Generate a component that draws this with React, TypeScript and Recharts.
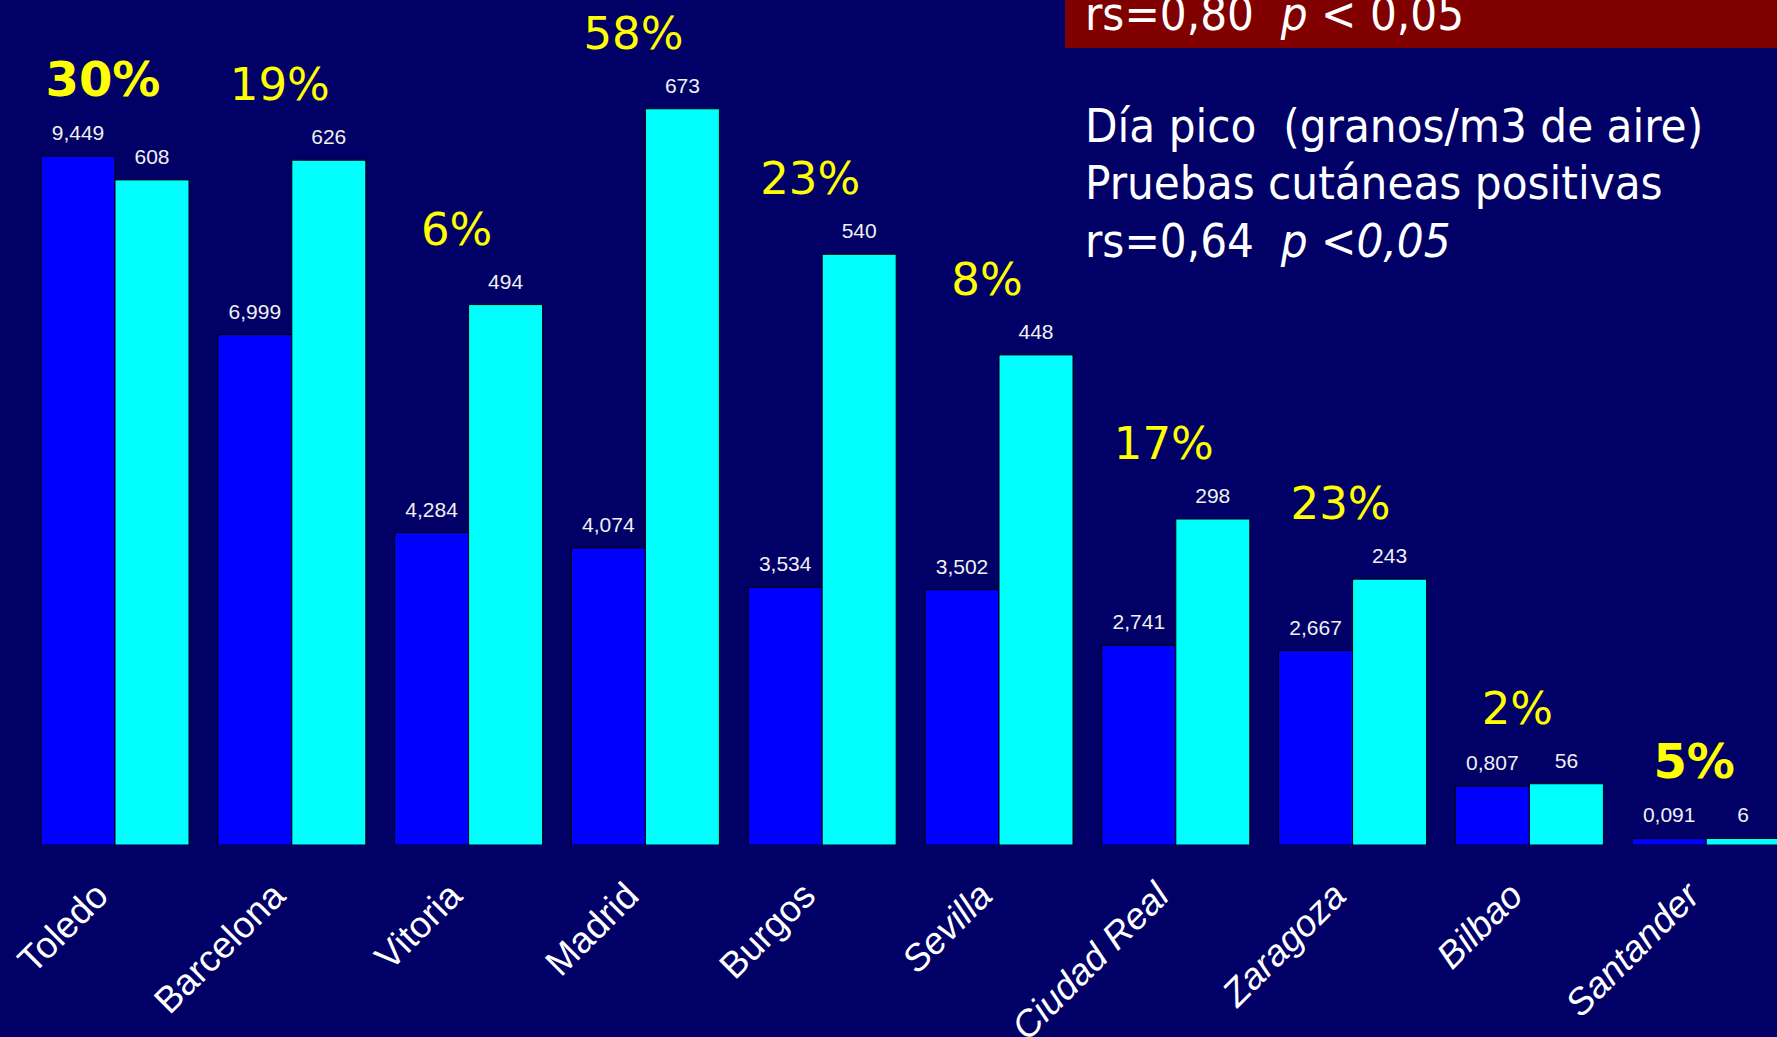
import { BarChart, Bar, XAxis, YAxis, LabelList } from 'recharts';

const cities = ['Toledo', 'Barcelona', 'Vitoria', 'Madrid', 'Burgos', 'Sevilla', 'Ciudad Real', 'Zaragoza', 'Bilbao', 'Santander'];
// pico diario (granos/m3 de aire, en miles)
const peakDay = [9.449, 6.999, 4.284, 4.074, 3.534, 3.502, 2.741, 2.667, 0.807, 0.091];
// pruebas cutáneas positivas
const positiveTests = [608, 626, 494, 673, 540, 448, 298, 243, 56, 6];
const percentLabels = ['30%', '19%', '6%', '58%', '23%', '8%', '17%', '23%', '2%', '5%'];

const data = cities.map((city, i) => ({
    city,
    peak: peakDay[i],
    tests: positiveTests[i],
}));

const BG = '#000066';
const PLOT_H = 800;
const BLUE_MAX = 10.971;
const CYAN_MAX = 731.3;
const ITALIC_FROM = 5;
const BOLD_PCT = new Set([0, 9]);

const CityTick = (props: any) => {
    const { x, y, payload, index } = props;
    const tx = x - 5;
    const ty = y + 53;
    return (
        <text
            x={tx}
            y={ty}
            transform={`rotate(-45 ${tx} ${ty})`}
            textAnchor="end"
            fill="#ffffff"
            fontSize={37}
            fontFamily="'Liberation Sans', Arial, sans-serif"
            fontStyle={index >= ITALIC_FROM ? 'italic' : 'normal'}
        >
            {payload.value}
        </text>
    );
};

const fmtPeak = (v: any) => Number(v).toFixed(3).replace('.', ',');

const PercentLabel = (props: any) => {
    const { index } = props;
    const x = props.x ?? props.viewBox?.x;
    const y = props.y ?? props.viewBox?.y;
    const h = props.height ?? props.viewBox?.height ?? 0;
    const base = y + h;
    const blueTop = base - (peakDay[index] / BLUE_MAX) * PLOT_H;
    const top = Math.min(y, blueTop);
    const bold = BOLD_PCT.has(index);
    return (
        <text
            x={x - 12}
            y={top - 60}
            textAnchor="middle"
            fill="#ffff00"
            fontSize={bold ? 48 : 45}
            fontWeight={bold ? 'bold' : 'normal'}
            fontFamily="'DejaVu Sans', Verdana, sans-serif"
        >
            {percentLabels[index]}
        </text>
    );
};

const valueLabelStyle = {
    fill: '#f0f0f0',
    fontSize: 21,
    fontFamily: "'Liberation Sans', Arial, sans-serif",
};

export default function App() {
    const headFont = "'DejaVu Sans Condensed', 'DejaVu Sans', sans-serif";
    return (
        <div style={{ position: 'fixed', left: 0, top: 0, width: 1777, height: 1037, overflow: 'hidden', background: BG }}>
            <BarChart
                width={1800}
                height={1037}
                data={data}
                margin={{ top: 45, right: 5, bottom: 0, left: 27 }}
                barGap={0}
                barCategoryGap={14}
            >
                <XAxis
                    dataKey="city"
                    height={192}
                    interval={0}
                    axisLine={false}
                    tickLine={false}
                    tickSize={0}
                    tickMargin={0}
                    tick={<CityTick />}
                />
                <YAxis yAxisId="blue" hide domain={[0, BLUE_MAX]} allowDataOverflow />
                <YAxis yAxisId="cyan" hide orientation="right" domain={[0, CYAN_MAX]} allowDataOverflow />
                <Bar yAxisId="blue" dataKey="peak" fill="#0000ff" stroke="#000000" strokeWidth={1} isAnimationActive={false}>
                    <LabelList dataKey="peak" position="top" offset={16} formatter={fmtPeak} style={valueLabelStyle} />
                </Bar>
                <Bar yAxisId="cyan" dataKey="tests" fill="#00ffff" stroke="#000000" strokeWidth={1} isAnimationActive={false}>
                    <LabelList dataKey="tests" position="top" offset={16} style={valueLabelStyle} />
                    <LabelList dataKey="tests" content={<PercentLabel />} />
                </Bar>
            </BarChart>

            <svg width={1777} height={1037} style={{ position: 'absolute', left: 0, top: 0, pointerEvents: 'none' }}>
                <rect x={1065} y={0} width={712} height={48} fill="#800000" />
                <g fill="#ffffff" fontFamily={headFont} fontSize={47}>
                    <text x={1085} y={30} xmlSpace="preserve">
                        {'rs=0,80  '}<tspan fontStyle="italic">p</tspan>{' < 0,05'}
                    </text>
                    <text x={1085} y={142} xmlSpace="preserve">{'Día pico  (granos/m3 de aire)'}</text>
                    <text x={1085} y={199} xmlSpace="preserve">{'Pruebas cutáneas positivas'}</text>
                    <text x={1085} y={257} xmlSpace="preserve">
                        {'rs=0,64  '}<tspan fontStyle="italic">{'p <0,05'}</tspan>
                    </text>
                </g>
            </svg>
        </div>
    );
}
